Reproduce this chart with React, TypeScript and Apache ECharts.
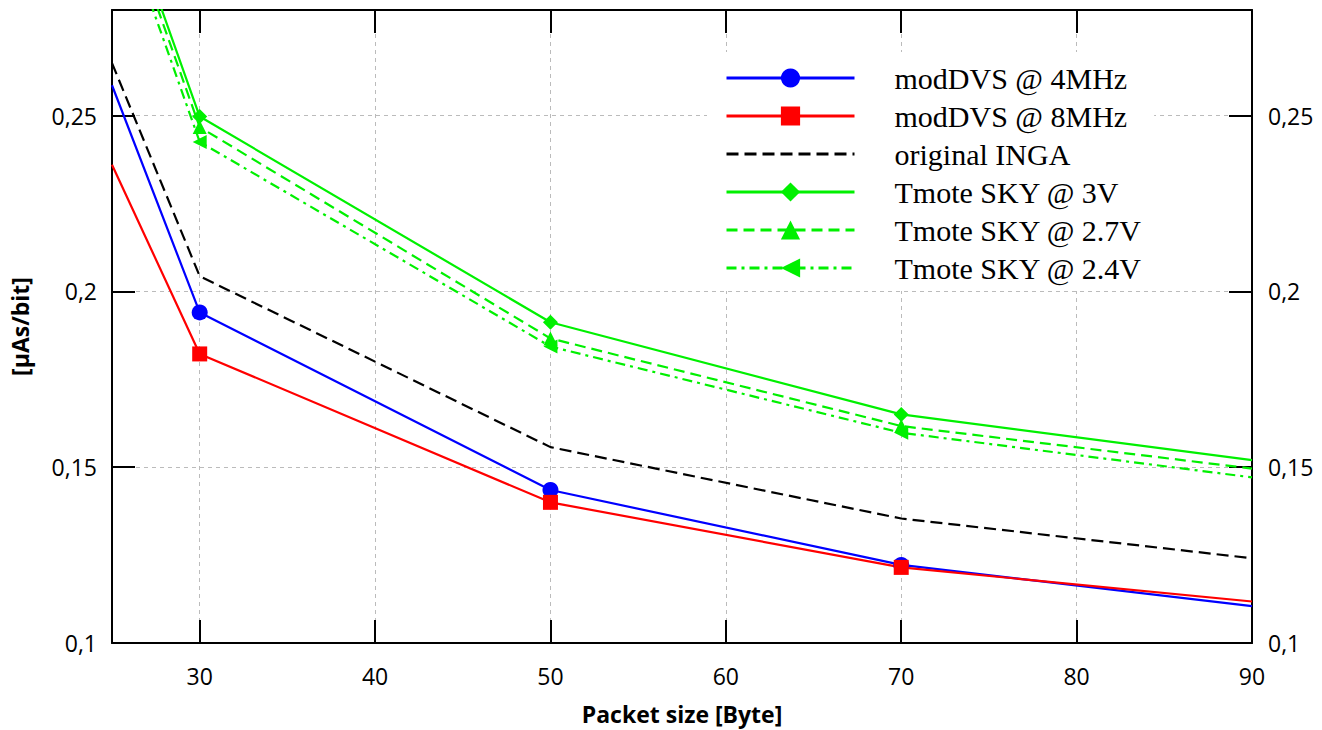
import React, { useEffect, useRef } from "react";
import * as echarts from "echarts";

// ---- data ----
const xTicks = [30, 40, 50, 60, 70, 80, 90];
const yTicks = [0.1, 0.15, 0.2, 0.25];
const packetSizes = [25, 30, 50, 70, 90];
const modDVS4 = [0.2586, 0.194, 0.1435, 0.1222, 0.1105];
const modDVS8 = [0.236, 0.1822, 0.14, 0.1215, 0.1118];
const originalINGA = [0.2649, 0.2043, 0.1557, 0.1354, 0.1241];
const tmote3V = [0.32, 0.2497, 0.1912, 0.165, 0.152];
const tmote27V = [0.317, 0.2467, 0.1866, 0.1617, 0.1496];
const tmote24V = [0.313, 0.2425, 0.1843, 0.1598, 0.1471];

const seriesNames = [
  "modDVS @ 4MHz",
  "modDVS @ 8MHz",
  "original INGA",
  "Tmote SKY @ 3V",
  "Tmote SKY @ 2.7V",
  "Tmote SKY @ 2.4V",
];

const fmt = (v: number) => String(v).replace(".", ",");

function buildData(vals: number[]) {
  return packetSizes.map((x, i) => {
    const item: any = { value: [x, vals[i]] };
    if (i === 0 || i === packetSizes.length - 1) item.symbol = "none";
    return item;
  });
}

function mkSeries(
  name: string,
  vals: number[],
  color: string,
  symbol: string,
  size: number,
  lineType: any,
  rotate = 0
) {
  return {
    type: "line",
    name,
    data: buildData(vals),
    symbol,
    symbolSize: size,
    symbolRotate: rotate,
    showSymbol: true,
    clip: true,
    lineStyle: { color, width: 2.2, type: lineType },
    itemStyle: { color, borderWidth: 0 },
    emphasis: { disabled: true },
  };
}

export default function App() {
  const ref = useRef<HTMLDivElement>(null);

  useEffect(() => {
    if (!ref.current) return;
    const chart = echarts.init(ref.current, undefined, { renderer: "svg" });
    const tickFont = { fontFamily: "Open Sans", fontSize: 23, color: "#000" };
    const nameFont = { fontFamily: "Open Sans", fontSize: 23, fontWeight: "bold" as const, color: "#000" };
    const axisLine = { show: true, onZero: false, lineStyle: { color: "#000", width: 2 } };
    const tickStyle = { color: "#000", width: 2 };
    const grid = { show: true, lineStyle: { color: "#bbbbbb", width: 1, type: [4, 4] } };
    const green = "#00f000";

    chart.setOption({
      animation: false,
      backgroundColor: "#fff",
      grid: { left: 112, right: 70, top: 10, bottom: 85, containLabel: false },
      xAxis: [
        {
          type: "value",
          position: "bottom",
          min: 25,
          max: 90,
          axisLine,
          axisTick: { show: true, inside: true, length: 23, lineStyle: tickStyle, customValues: xTicks },
          axisLabel: { show: true, customValues: xTicks, margin: 21, ...tickFont, formatter: (v: number) => String(v) },
          splitLine: grid,
          name: "Packet size [Byte]",
          nameLocation: "middle",
          nameGap: 59,
          nameTextStyle: nameFont,
        },
        {
          type: "value",
          position: "top",
          min: 25,
          max: 90,
          axisLine,
          axisTick: { show: true, inside: true, length: 23, lineStyle: tickStyle, customValues: xTicks },
          axisLabel: { show: false },
          splitLine: { show: false },
        },
      ],
      yAxis: [
        {
          type: "value",
          position: "left",
          min: 0.1,
          max: 0.28,
          axisLine,
          axisTick: { show: true, inside: true, length: 23, lineStyle: tickStyle, customValues: yTicks },
          axisLabel: { show: true, customValues: yTicks, margin: 15, ...tickFont, formatter: fmt },
          splitLine: grid,
          name: "[µAs/bit]",
          nameLocation: "middle",
          nameGap: 81,
          nameTextStyle: nameFont,
        },
        {
          type: "value",
          position: "right",
          min: 0.1,
          max: 0.28,
          axisLine,
          axisTick: { show: true, inside: true, length: 23, lineStyle: tickStyle, customValues: yTicks },
          axisLabel: { show: true, customValues: yTicks, margin: 16, ...tickFont, formatter: fmt },
          splitLine: { show: false },
        },
      ],
      legend: {
        orient: "vertical",
        left: 707,
        top: 52,
        itemWidth: 128,
        itemHeight: 24,
        itemGap: 8,
        backgroundColor: "#fff",
        padding: [11, 12, 8, 18],
        selectedMode: false,
        lineStyle: { width: 3 },
        textStyle: {
          fontFamily: "Liberation Serif",
          fontSize: 30,
          color: "#000",
          lineHeight: 24,
          padding: [0, 0, 0, 35],
        },
        data: seriesNames.map((n, i) =>
          i === 2 ? { name: n, itemStyle: { opacity: 0 } } : { name: n }
        ),
      },
      series: [
        mkSeries(seriesNames[0], modDVS4, "#0000ff", "circle", 16, "solid"),
        mkSeries(seriesNames[1], modDVS8, "#ff0000", "rect", 15, "solid"),
        mkSeries(seriesNames[2], originalINGA, "#000000", "none", 0, [12, 6]),
        mkSeries(seriesNames[3], tmote3V, green, "diamond", 15, "solid"),
        mkSeries(seriesNames[4], tmote27V, green, "triangle", 14, [11, 6]),
        mkSeries(seriesNames[5], tmote24V, green, "triangle", 14, [10, 5, 3, 5], 90),
      ],
    });
    return () => chart.dispose();
  }, []);

  return (
    <div
      ref={ref}
      style={{ position: "fixed", left: 0, top: 0, width: 1322, height: 730, background: "#fff" }}
    />
  );
}
